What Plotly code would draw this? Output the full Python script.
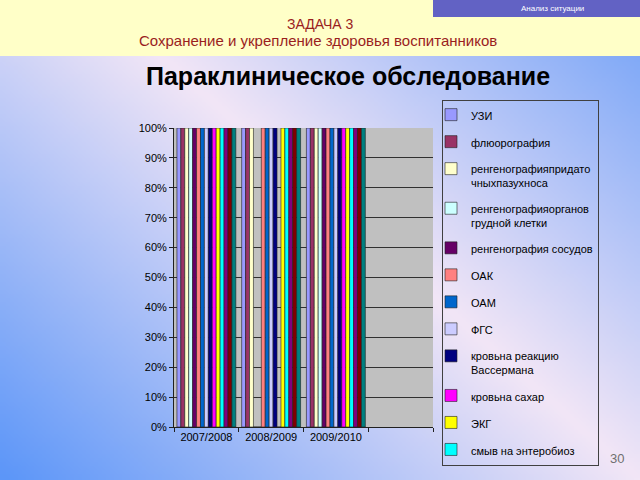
import zlib, struct, base64, math
import plotly.graph_objects as go

# ---------------- data ----------------
categories = ["2007/2008", "2008/2009", "2009/2010", " "]
series_names = [
    "УЗИ",
    "флюорография",
    "ренгенографияпридато<br>чныхпазухноса",
    "ренгенографияорганов<br>грудной клетки",
    "ренгенография сосудов",
    "ОАК",
    "ОАМ",
    "ФГС",
    "кровьна реакцию<br>Вассермана",
    "кровьна сахар",
    "ЭКГ",
    "смыв на энтеробиоз",
    "ряд 13",
    "ряд 14",
    "ряд 15",
]
series_values = [
    [1, 1, 1, None],
    [1, 1, 1, None],
    [1, 1, 1, None],
    [1, 0, 1, None],
    [1, 0, 1, None],
    [1, 1, 1, None],
    [1, 1, 1, None],
    [1, 1, 1, None],
    [1, 1, 1, None],
    [1, 0, 1, None],
    [1, 1, 1, None],
    [1, 1, 1, None],
    [1, 1, 1, None],
    [1, 1, 1, None],
    [1, 1, 1, None],
]
series_in_legend = [True] * 12 + [False] * 3
colors = ["#9999FF", "#993366", "#FFFFCC", "#CCFFFF", "#660066", "#FF8080",
          "#0066CC", "#CCCCFF", "#000080", "#FF00FF", "#FFFF00", "#00FFFF",
          "#800080", "#800000", "#008080"]
y_ticks = [i / 10 for i in range(11)]

W, H = 640, 480

# ---------------- background gradient image ----------------
def make_png(w, h, fn):
    raw = bytearray()
    for j in range(h):
        raw.append(0)
        for i in range(w):
            raw.extend(fn(i, j))
    def chunk(t, d):
        c = struct.pack(">I", len(d)) + t + d
        return c + struct.pack(">I", zlib.crc32(t + d) & 0xFFFFFFFF)
    return (b"\x89PNG\r\n\x1a\n"
            + chunk(b"IHDR", struct.pack(">IIBBBBB", w, h, 8, 2, 0, 0, 0))
            + chunk(b"IDAT", zlib.compress(bytes(raw), 9))
            + chunk(b"IEND", b""))

PINK = (242, 230, 246)
BLUE = (92, 150, 248)
nx, ny = 425 / 641.0, -480 / 641.0

def grad(i, j):
    x = (i + 0.5) * 4
    y = (j + 0.5) * 4
    d = (x - 160) * nx + (y - 55) * ny
    t = min(1.0, abs(d) / 420.0) ** 1.0
    return bytes(int(round(PINK[k] * (1 - t) + BLUE[k] * t)) for k in range(3))

png = make_png(160, 120, grad)
bg_uri = "data:image/png;base64," + base64.b64encode(png).decode()

# ---------------- figure ----------------
fig = go.Figure()
for name, vals, col, inleg in zip(series_names, series_values, colors, series_in_legend):
    fig.add_trace(go.Bar(
        x=categories, y=vals, name=name, showlegend=inleg,
        legendgroup=name,
        marker=dict(color=col, line=dict(color="#202020", width=0.6)),
    ))

FONT = "Arial, Liberation Sans, sans-serif"

def px_x(v):
    return v / W

def px_y(v):
    return 1 - v / H

def label(text, x, y, size, color, weight="normal"):
    return dict(text=text, xref="paper", yref="paper", x=px_x(x), y=px_y(y),
                xanchor="center", yanchor="middle", showarrow=False,
                font=dict(family=FONT, size=size, color=color, weight=weight))

fig.update_layout(
    width=W, height=H,
    margin=dict(l=0, r=0, t=0, b=0),
    paper_bgcolor="#FFFFFF",
    plot_bgcolor="#C0C0C0",
    barmode="group",
    bargap=0.09,
    bargroupgap=0,
    font=dict(family=FONT, size=11, color="#000000"),
    showlegend=True,
    legend=dict(
        x=px_x(442), y=px_y(100), xanchor="left", yanchor="top",
        bgcolor="rgba(0,0,0,0)", bordercolor="#404040", borderwidth=1,
        font=dict(family=FONT, size=11, color="#000000"),
        tracegroupgap=8, valign="top", indentation=-12,
    ),
    xaxis=dict(
        domain=[px_x(174), px_x(433)],
        categoryorder="array", categoryarray=categories,
        showline=True, linecolor="#202020", linewidth=1,
        ticks="outside", ticklen=4, tickcolor="#202020",
        tickson="boundaries", showgrid=False,
        tickfont=dict(family=FONT, size=11, color="#000000"),
        automargin=False,
    ),
    yaxis=dict(
        domain=[1 - 427 / H, 1 - 128 / H],
        range=[0, 1], tickvals=y_ticks, tickformat=".0%",
        showline=True, linecolor="#202020", linewidth=1,
        ticks="outside", ticklen=4, tickcolor="#202020",
        showgrid=True, gridcolor="#303030", gridwidth=1,
        zeroline=False,
        tickfont=dict(family=FONT, size=11, color="#000000"),
        automargin=False,
    ),
    images=[dict(
        source=bg_uri, xref="paper", yref="paper", x=0, y=1,
        sizex=1, sizey=1, xanchor="left", yanchor="top",
        sizing="stretch", layer="below",
    )],
    shapes=[
        dict(type="rect", xref="paper", yref="paper", x0=0, x1=1,
             y0=px_y(56), y1=1, fillcolor="#FFFFC8", line=dict(width=0), layer="below"),
        dict(type="rect", xref="paper", yref="paper", x0=px_x(433), x1=1,
             y0=px_y(17), y1=1, fillcolor="#6262C4", line=dict(width=0), layer="below"),
        dict(type="rect", xref="x domain", yref="y domain", x0=0, x1=1, y0=0, y1=1,
             fillcolor="#C0C0C0", line=dict(width=0), layer="below"),
    ],
    annotations=[
        label("Анализ ситуации", 552, 8, 8, "#FFFFFF"),
        label("ЗАДАЧА 3", 320, 24, 14, "#9A1E1E"),
        label("Сохранение и укрепление здоровья воспитанников", 318, 40, 15, "#9A1E1E"),
        label("Параклиническое обследование", 348, 76, 25, "#000000", "bold"),
        label("30", 617, 458, 13, "#707070"),
    ],
)

fig.write_html("out.html")
